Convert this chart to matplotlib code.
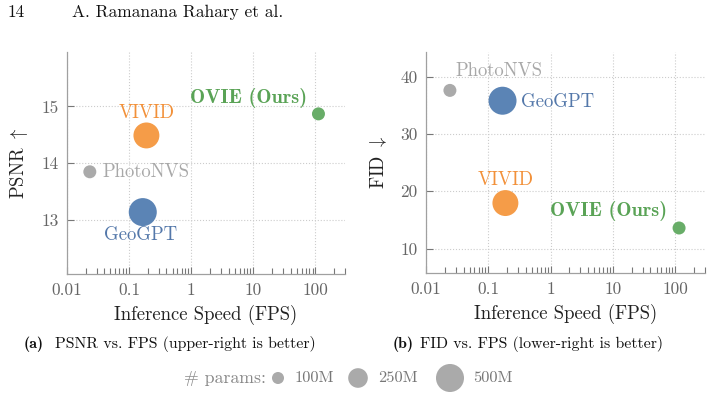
import matplotlib
matplotlib.use("Agg")
import matplotlib.pyplot as plt
from matplotlib.ticker import FixedLocator, FixedFormatter, LogLocator, NullFormatter

# ---------------------------------------------------------------------------
# Datos
# ---------------------------------------------------------------------------
modelos = ["PhotoNVS", "GeoGPT", "VIVID", "OVIE (Ours)"]
fps_psnr = [0.0233, 0.166, 0.19, 112]
psnr = [13.85, 13.14, 14.49, 14.87]
fps_fid = [0.0242, 0.169, 0.188, 115]
fid = [37.6, 35.8, 17.95, 13.6]
params_m = [115, 500, 430, 115]

leyenda_params = [100, 250, 500]
leyenda_textos = ["100M", "250M", "500M"]

xticks = [0.01, 0.1, 1, 10, 100]
xtick_labels = ["0.01", "0.1", "1", "10", "100"]
yticks_psnr = [13, 14, 15]
yticks_fid = [10, 20, 30, 40]

colores = ["#AAAAAA", "#5B84B5", "#F59C48", "#68AD68"]
colores_txt = ["#A8A8A8", "#5478AA", "#F2913A", "#5AA356"]


def tam(p):
    return 0.83 * p - 8


plt.rcParams["font.family"] = ["cmr10", "DejaVu Serif"]
plt.rcParams["mathtext.fontset"] = "cm"
plt.rcParams["axes.formatter.use_mathtext"] = True

fig = plt.figure(figsize=(7.12, 3.99), dpi=100)

ax_a = fig.add_axes([0.0941, 0.3133, 0.3905, 0.5564])
ax_b = fig.add_axes([0.5983, 0.3158, 0.3919, 0.5539])

# offsets de etiquetas en píxeles (dx, dy, ha)
offs_a = [(13, 0, "left"), (-2, -23, "center"), (0, 22, "center"), (-11, 16, "right")]
offs_b = [(6, 19, "left"), (18, -1, "left"), (0, 23, "center"), (-12, 17, "right")]


def estilo(ax, ylim, yticks, ylabel):
    ax.set_xscale("log")
    ax.set_xlim(0.01, 300)
    ax.set_ylim(*ylim)
    ax.xaxis.set_major_locator(FixedLocator(xticks))
    ax.xaxis.set_major_formatter(FixedFormatter(xtick_labels))
    ax.xaxis.set_minor_locator(LogLocator(base=10, subs=range(2, 10), numticks=20))
    ax.xaxis.set_minor_formatter(NullFormatter())
    ax.set_yticks(yticks)
    ax.set_yticklabels([str(t) for t in yticks])
    for s in ["top", "right"]:
        ax.spines[s].set_visible(False)
    for s in ["left", "bottom"]:
        ax.spines[s].set_color("#A0A0A0")
        ax.spines[s].set_linewidth(0.9)
    ax.tick_params(axis="both", which="major", direction="in", length=5, width=0.8,
                   color="#777777", labelcolor="#666666", labelsize=12.5, pad=6)
    ax.tick_params(axis="x", which="minor", direction="in", length=4, width=0.8,
                   color="#777777")
    ax.grid(True, which="major", linestyle=":", color="#CCCCCC", linewidth=0.8)
    ax.set_axisbelow(True)
    ax.set_xlabel("Inference Speed (FPS)", fontsize=13.5, color="#222222", labelpad=5)
    ax.set_ylabel(ylabel, fontsize=13.5, color="#222222", labelpad=8)


def puntos(ax, xs, ys, offs):
    for i, nombre in enumerate(modelos):
        ax.scatter(xs[i], ys[i], s=tam(params_m[i]), color=colores[i],
                   edgecolors="none", zorder=3)
        dx, dy, ha = offs[i]
        negrita = nombre.startswith("OVIE")
        ax.annotate(nombre, (xs[i], ys[i]), xytext=(dx, dy), textcoords="offset pixels",
                    ha=ha, va="center", fontsize=14.6 if negrita else 13.5,
                    family=["cmb10", "DejaVu Serif"] if negrita else ["cmr10", "DejaVu Serif"],
                    color=colores_txt[i], zorder=4)


estilo(ax_a, (12.05, 15.96), yticks_psnr, r"PSNR $\uparrow$")
puntos(ax_a, fps_psnr, psnr, offs_a)

estilo(ax_b, (5.75, 44.3), yticks_fid, r"FID $\downarrow$")
puntos(ax_b, fps_fid, fid, offs_b)

# encabezado de página
fig.text(8 / 712, 1 - 12 / 399, "14", fontsize=12.5, va="center", ha="left", color="#111111")
fig.text(72 / 712, 1 - 12 / 399, "A. Ramanana Rahary et al.", fontsize=12.5,
         va="center", ha="left", color="#111111")

# subtítulos
fs_cap = 11.4
fig.text(24 / 712, 1 - 344 / 399, "(a)", fontsize=fs_cap, family=["cmb10", "DejaVu Serif"],
         va="center", ha="left", color="#111111")
fig.text(55 / 712, 1 - 344 / 399, "PSNR vs. FPS (upper-right is better)", fontsize=fs_cap,
         va="center", ha="left", color="#111111")
fig.text(393 / 712, 1 - 344 / 399, "(b)", fontsize=fs_cap, family=["cmb10", "DejaVu Serif"],
         va="center", ha="left", color="#111111")
fig.text(420 / 712, 1 - 344 / 399, "FID vs. FPS (lower-right is better)", fontsize=fs_cap,
         va="center", ha="left", color="#111111")

# leyenda de tamaños
ax_leg = fig.add_axes([0, 0, 1, 1], facecolor="none")
ax_leg.set_xlim(0, 712)
ax_leg.set_ylim(399, 0)
ax_leg.axis("off")
ax_leg.text(184, 378, "# params:", fontsize=12.8, color="#888888", va="center", ha="left")
pos_x = [278, 358, 450]
for p, txt, x in zip(leyenda_params, leyenda_textos, pos_x):
    ax_leg.scatter(x, 378, s=tam(p), color="#AAAAAA", edgecolors="none")
    ax_leg.text(x + 17 + (x - 278) * 0.035, 378, txt, fontsize=11.8, color="#777777",
                va="center", ha="left")

fig.savefig("out.png", dpi=100)
